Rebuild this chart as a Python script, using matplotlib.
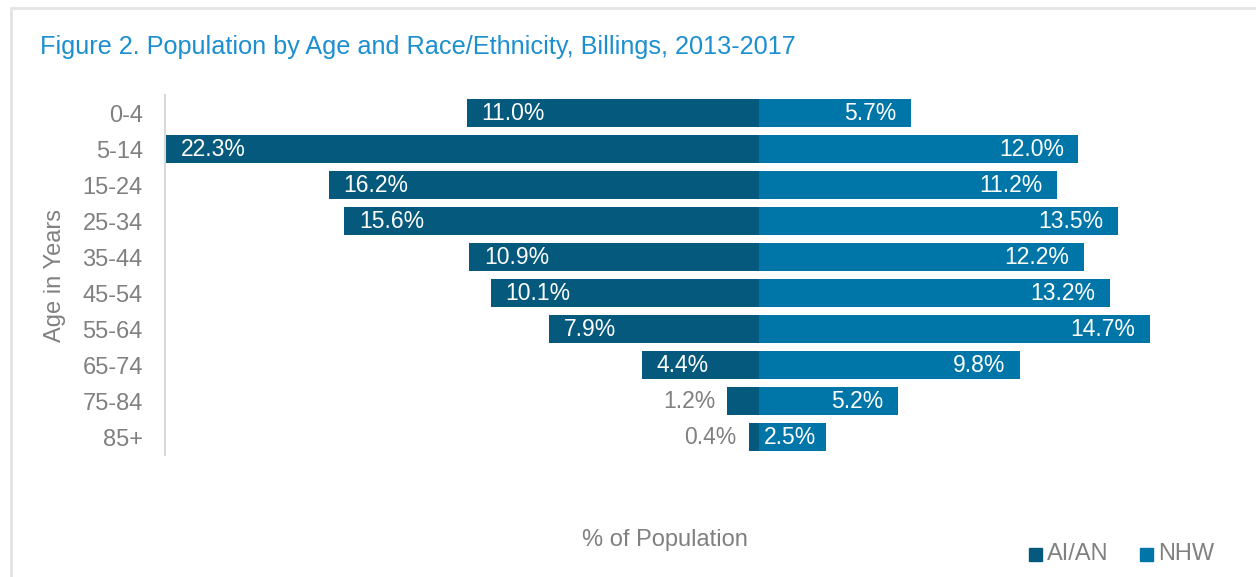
import matplotlib.pyplot as plt
from matplotlib.patches import Rectangle
from matplotlib.font_manager import fontManager

# ── Дані ─────────────────────────────────────────────────────────────────────
ages   = ['0-4', '5-14', '15-24', '25-34', '35-44', '45-54',
          '55-64', '65-74', '75-84', '85+']
aian   = [11.0, 22.3, 16.2, 15.6, 10.9, 10.1, 7.9, 4.4, 1.2, 0.4]
nhw    = [5.7, 12.0, 11.2, 13.5, 12.2, 13.2, 14.7, 9.8, 5.2, 2.5]

C = dict(aian='#04597C', nhw='#0076A8', title='#1B8FCF',
         grey='#808080', line='#D9D9D9')

names = {f.name for f in fontManager.ttflist}
FONT = ['Liberation Sans Narrow', 'DejaVu Sans'] if 'Liberation Sans Narrow' in names \
    else ['Liberation Sans', 'DejaVu Sans']
plt.rcParams['font.family'] = FONT

fig = plt.figure(figsize=(12.56, 5.77), dpi=100)
fig.patch.set_facecolor('white')

# рамка навколо рисунка
fig.patches.append(Rectangle((11 / 1256, -0.05), 1.2, 1 - 8 / 577 + 0.05,
                             transform=fig.transFigure, fill=False,
                             edgecolor='#E3E3E3', linewidth=2))

fig.text(40 / 1256, 1 - 47 / 577, 'Figure 2. Population by Age and Race/Ethnicity, Billings, 2013-2017',
         fontsize=18.2, color=C['title'], va='center', ha='left')

# осі: x від 165 до 1230 px, y від 95 до 455 px
ax = fig.add_axes([165 / 1256, 1 - 455 / 577, (1230 - 165) / 1256, (455 - 95) / 577])
y = list(range(len(ages)))
ax.barh(y, [-v for v in aian], height=0.78, color=C['aian'])
ax.barh(y, nhw, height=0.78, color=C['nhw'])

ax.set_xlim(-22.35, 17.7)
ax.set_ylim(len(ages) - 0.5, -0.5)
ax.set_yticks(y)
ax.set_yticklabels(ages, fontsize=17, color=C['grey'])
ax.tick_params(axis='y', length=0, pad=16)
ax.set_xticks([])
for side in ['top', 'right', 'bottom']:
    ax.spines[side].set_visible(False)
ax.spines['left'].set_color(C['line'])
ax.spines['left'].set_linewidth(1.5)

ax.set_ylabel('Age in Years', fontsize=17, color=C['grey'], labelpad=12)

pad = 0.55
for i, (a, n) in enumerate(zip(aian, nhw)):
    if a >= 3:
        ax.text(-a + pad, i, f'{a:.1f}%', color='white', fontsize=16.5,
                ha='left', va='center')
    else:
        ax.text(-a - 0.45, i, f'{a:.1f}%', color=C['grey'], fontsize=16.5,
                ha='right', va='center')
    ax.text(n - (0.35 if n < 3 else pad), i, f'{n:.1f}%', color='white',
            fontsize=16.5, ha='right', va='center')

fig.text(665 / 1256, 1 - 540 / 577, '% of Population', fontsize=17,
         color=C['grey'], ha='center', va='center')

# легенда
for x0, lbl, col in [(1029, 'AI/AN', C['aian']), (1140, 'NHW', C['nhw'])]:
    fig.patches.append(Rectangle((x0 / 1256, 1 - 561 / 577), 13 / 1256, 13 / 577,
                                 transform=fig.transFigure, color=col))
    fig.text((x0 + 18) / 1256, 1 - 554 / 577, lbl, fontsize=17,
             color=C['grey'], ha='left', va='center')

fig.savefig('out.png', dpi=100, facecolor='white')
